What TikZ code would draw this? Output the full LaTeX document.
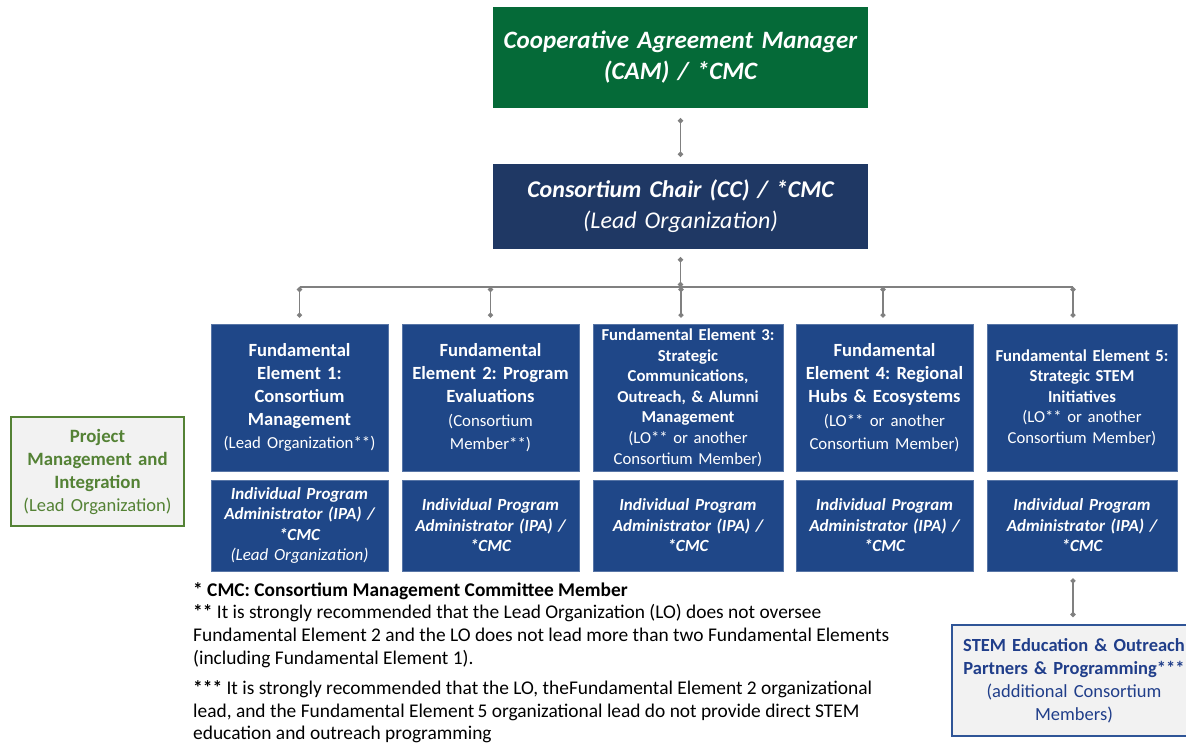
\documentclass[tikz,border=0pt]{standalone}
\usepackage{fontspec}
\setmainfont{Carlito}
\usetikzlibrary{arrows.meta,backgrounds,calc}
\definecolor{camgreen}{HTML}{056A38}
\definecolor{ccnavy}{HTML}{1F3864}
\definecolor{feblue}{HTML}{1F4788}
\definecolor{bandgreen}{HTML}{548235}
\definecolor{pmgray}{HTML}{F2F2F2}
\definecolor{stemblue}{HTML}{2F5597}
\definecolor{stemtext}{HTML}{203E8A}
\definecolor{conngray}{HTML}{808080}
\begin{document}
\frenchspacing
\begin{tikzpicture}[x=1pt,y=-1pt,
  every node/.append style={execute at begin node=\frenchspacing},
  topbox/.style={inner sep=0pt, align=center, text=white, text width=375pt},
  febox/.style={fill=feblue, draw=feblue!75!white, line width=0.8pt, inner sep=0pt,
    align=center, text=white, minimum height=147pt},
  ipabox/.style={fill=feblue, draw=feblue!75!white, line width=0.8pt, inner sep=0pt,
    align=center, text=white, minimum height=91pt,
    font=\fontsize{17}{20.5}\selectfont\bfseries\itshape},
  bigfe/.style={font=\fontsize{18.6}{23.2}\selectfont},
  smallfe/.style={font=\fontsize{16.7}{20.6}\selectfont},
  conn/.style={draw=conngray, line width=1.6pt, {Circle[length=5pt]}-{Circle[length=5pt]}},
  busline/.style={draw=conngray, line width=1.6pt}
]
\useasboundingbox[fill=white] (0,0) rectangle (1186,746);

% top boxes
\node[topbox, fill=camgreen, minimum height=101pt,
  font=\fontsize{25}{31}\selectfont\bfseries\itshape] (cam) at (680.5,57.5)
  {Cooperative Agreement Manager\\(CAM) / *CMC};
\node[topbox, fill=ccnavy, minimum height=85pt,
  font=\fontsize{24}{31}\selectfont\itshape] (cc) at (680.5,206.5)
  {\textbf{Consortium Chair (CC) / *CMC}\\(Lead Organization)};

% band
\begin{scope}[on background layer]
  \fill[bandgreen] (150,427) rectangle (1130,518);
\end{scope}

% project management
\node[draw=bandgreen, line width=2pt, fill=pmgray, text=bandgreen, inner sep=0pt,
  align=center, text width=173pt, minimum height=109pt,
  font=\fontsize{18.8}{23}\selectfont] (pm) at (97.5,471.5)
  {\textbf{Project}\\\textbf{Management and}\\\textbf{Integration}\\{\fontsize{18.5}{23}\selectfont(Lead Organization)}};

% fundamental elements
\node[febox, bigfe, text width=177pt] (fe1) at (299.5,397.5)
  {\textbf{Fundamental}\\\textbf{Element 1:}\\\textbf{Consortium}\\\textbf{Management}\\{\fontsize{16.8}{23}\selectfont(Lead Organization**)}};
\node[febox, bigfe, text width=177pt] (fe2) at (490.5,397.5)
  {\textbf{Fundamental}\\\textbf{Element 2: Program}\\\textbf{Evaluations}\\{\fontsize{16.8}{23}\selectfont(Consortium}\\{\fontsize{16.8}{23}\selectfont Member**)}};
\node[febox, smallfe, text width=190pt] (fe3) at (688,397.5)
  {\textbf{Fundamental Element 3:}\\\textbf{Strategic}\\\textbf{Communications,}\\\textbf{Outreach, \& Alumni}\\\textbf{Management}\\(LO** or another\\Consortium Member)};
\node[febox, bigfe, text width=177pt] (fe4) at (884.5,397.5)
  {\textbf{Fundamental}\\\textbf{Element 4: Regional}\\\textbf{Hubs \& Ecosystems}\\{\fontsize{16.8}{23}\selectfont(LO** or another}\\{\fontsize{16.8}{23}\selectfont Consortium Member)}};
\node[febox, smallfe, text width=190pt] (fe5) at (1082,397.5)
  {\textbf{Fundamental Element 5:}\\\textbf{Strategic STEM}\\\textbf{Initiatives}\\(LO** or another\\Consortium Member)};

% IPA boxes
\node[ipabox, text width=177pt] (ipa1) at (299.5,525.5)
  {Individual Program\\Administrator (IPA) /\\{}*CMC\\{\mdseries(Lead Organization)}};
\node[ipabox, text width=177pt] (ipa2) at (490.5,525.5)
  {Individual Program\\Administrator (IPA) /\\{}*CMC};
\node[ipabox, text width=190pt] (ipa3) at (688,525.5)
  {Individual Program\\Administrator (IPA) /\\{}*CMC};
\node[ipabox, text width=177pt] (ipa4) at (884.5,525.5)
  {Individual Program\\Administrator (IPA) /\\{}*CMC};
\node[ipabox, text width=190pt] (ipa5) at (1082,525.5)
  {Individual Program\\Administrator (IPA) /\\{}*CMC};

% STEM box
\node[draw=stemblue, line width=2pt, fill=pmgray, text=stemtext, inner sep=0pt,
  align=center, text width=244pt, minimum height=111pt,
  font=\fontsize{18.5}{23}\selectfont] (stem) at (1074,680.5)
  {\textbf{STEM Education \& Outreach}\\\textbf{Partners \& Programming***}\\(additional Consortium\\Members)};

% footnotes
\node[anchor=north west, align=left, inner sep=0pt,
  font=\fontsize{19.4}{22.8}\selectfont] (notes) at (193,582)
  {\textbf{* CMC: Consortium Management Committee Member}\\
   \textbf{**} It is strongly recommended that the Lead Organization (LO) does not oversee\\
   Fundamental Element 2 and the LO does not lead more than two Fundamental Elements\\
   (including Fundamental Element 1).\\[7pt]
   \textbf{***} It is strongly recommended that the LO, theFundamental Element 2 organizational\\
   lead, and the Fundamental Element\,5 organizational lead do not provide direct STEM\\
   education and outreach programming};

% connectors
\coordinate (bus) at (681,287);
\draw[conn] ($(cam.south)+(0,10)$) -- ($(cc.north)+(0,-7)$);
\draw[conn] ($(cc.south)+(0,8)$) -- (cc.south |- bus);
\draw[busline] (fe1.north |- bus) -- ($(fe5.north |- bus)+(-9,0)$);
\draw[conn] (fe1.north |- bus) -- ($(fe1.north)+(0,-6)$);
\draw[conn] (fe2.north |- bus) -- ($(fe2.north)+(0,-6)$);
\draw[conn] ($(fe3.north |- bus)+(-7,0)$) -- ($(fe3.north)+(-7,-6)$);
\draw[conn] ($(fe4.north |- bus)+(-1.5,0)$) -- ($(fe4.north)+(-1.5,-6)$);
\draw[conn] ($(fe5.north |- bus)+(-9,0)$) -- ($(fe5.north)+(-9,-6)$);
\draw[conn] ($(ipa5.south -| stem.north)+(-1,7)$) -- ($(stem.north)+(-1,-7)$);
\end{tikzpicture}
\end{document}
